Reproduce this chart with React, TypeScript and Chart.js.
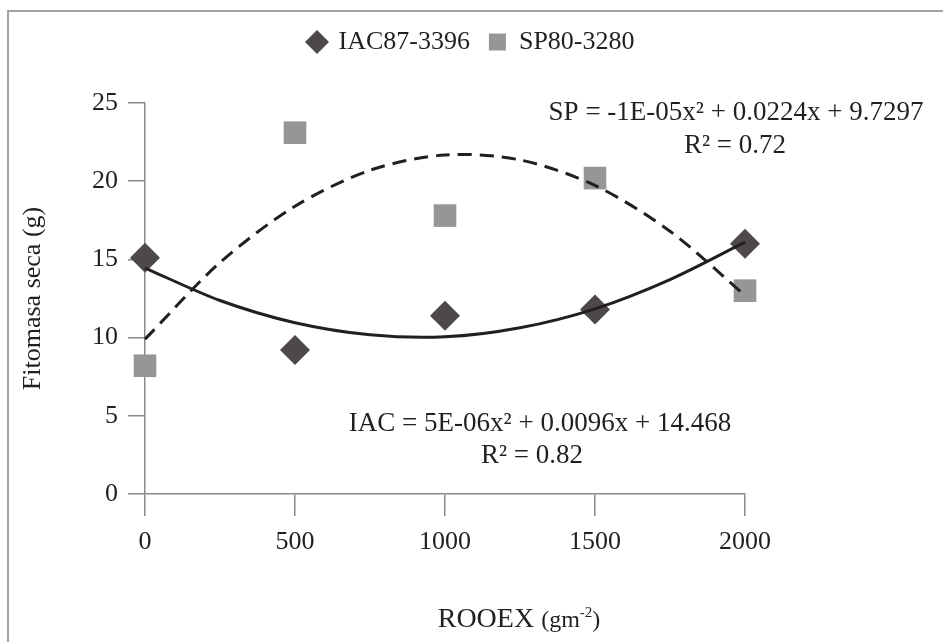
import React, { useEffect, useRef } from 'react';
import { Chart, registerables } from 'chart.js';

Chart.register(...registerables);

// ---- data ----
const doses = [0, 500, 1000, 1500, 2000];
const iacValues = [15.1, 9.2, 11.4, 11.8, 16.0];
const spValues = [8.2, 23.1, 17.8, 20.2, 13.0];
const trendX = [0, 250, 500, 750, 1000, 1250, 1500, 1750, 2000];
const iacTrend = [14.45, 12.37, 10.95, 10.18, 10.05, 10.63, 11.84, 13.71, 16.1];
const spTrend = [9.9, 14.8, 18.4, 20.7, 21.68, 21.36, 19.73, 16.8, 12.7];
const xTicks = [0, 500, 1000, 1500, 2000];
const yTicks = [0, 5, 10, 15, 20, 25];
const seriesNames = ['IAC87-3396', 'SP80-3280'];
const spEquation = 'SP = -1E-05x² + 0.0224x + 9.7297';
const spR2 = 'R² = 0.72';
const iacEquation = 'IAC = 5E-06x² + 0.0096x + 14.468';
const iacR2 = 'R² = 0.82';
const yTitle = 'Fitomasa seca (g)';

const FONT = "'Liberation Serif', 'Times New Roman', serif";
const TEXT = '#231f20';
const AXIS = '#8a8a8a';

const legendSpacer = {
  id: 'legendSpacer',
  beforeInit(chart: any) {
    const legend = chart.legend;
    if (!legend) return;
    const orig = legend.fit;
    legend.fit = function () {
      orig.call(this);
      this.height += 38;
    };
  },
};

const decor = {
  id: 'decor',
  beforeDraw(chart: any) {
    const ctx = chart.ctx;
    ctx.save();
    ctx.strokeStyle = '#a3a3a3';
    ctx.lineWidth = 2;
    ctx.beginPath();
    ctx.moveTo(8, 642);
    ctx.lineTo(8, 11);
    ctx.lineTo(943, 11);
    ctx.stroke();
    ctx.restore();
  },
  afterDraw(chart: any) {
    const ctx = chart.ctx;
    ctx.save();
    ctx.fillStyle = TEXT;
    ctx.textBaseline = 'alphabetic';
    ctx.textAlign = 'center';
    ctx.font = `27px ${FONT}`;
    ctx.fillText(spEquation, 736, 120);
    ctx.fillText(spR2, 735, 153);
    ctx.fillText(iacEquation, 540, 431);
    ctx.fillText(iacR2, 532, 463);

    // x-axis title with superscript
    const parts: [string, number, number][] = [
      ['ROOEX ', 28, 0],
      ['(gm', 24, 0],
      ['-2', 15, -10],
      [')', 24, 0],
    ];
    let total = 0;
    for (const [t, s] of parts) {
      ctx.font = `${s}px ${FONT}`;
      total += ctx.measureText(t).width;
    }
    let x = 519 - total / 2;
    ctx.textAlign = 'left';
    for (const [t, s, dy] of parts) {
      ctx.font = `${s}px ${FONT}`;
      ctx.fillText(t, x, 627 + dy);
      x += ctx.measureText(t).width;
    }
    ctx.restore();
  },
};

export default function App() {
  const ref = useRef<HTMLCanvasElement | null>(null);

  useEffect(() => {
    if (!ref.current) return;
    const chart = new Chart(ref.current, {
      type: 'scatter',
      data: {
        datasets: [
          {
            label: seriesNames[0],
            data: doses.map((d, i) => ({ x: d, y: iacValues[i] })),
            pointStyle: 'rectRot',
            pointRadius: 15,
            pointHoverRadius: 15,
            backgroundColor: '#4d494b',
            borderColor: '#4d494b',
            borderWidth: 0,
            clip: false,
            order: 1,
          },
          {
            label: seriesNames[1],
            data: doses.map((d, i) => ({ x: d, y: spValues[i] })),
            pointStyle: 'rect',
            pointRadius: 16,
            pointHoverRadius: 16,
            backgroundColor: '#969598',
            borderColor: '#969598',
            borderWidth: 0,
            clip: false,
            order: 1,
          },
          {
            label: 'trend-iac',
            type: 'line',
            data: trendX.map((d, i) => ({ x: d, y: iacTrend[i] })),
            showLine: true,
            pointRadius: 0,
            borderColor: TEXT,
            borderWidth: 3,
            tension: 0.3,
            fill: false,
            clip: false,
            order: 0,
          } as any,
          {
            label: 'trend-sp',
            type: 'line',
            data: trendX.map((d, i) => ({ x: d, y: spTrend[i] })),
            showLine: true,
            pointRadius: 0,
            borderColor: TEXT,
            borderWidth: 3,
            borderDash: [14, 8],
            tension: 0.3,
            fill: false,
            clip: false,
            order: 0,
          } as any,
        ],
      },
      options: {
        responsive: false,
        animation: false,
        layout: { padding: { top: 10, right: 0, bottom: 0, left: 0 } },
        plugins: {
          tooltip: { enabled: false },
          legend: {
            display: true,
            position: 'top',
            labels: {
              usePointStyle: true,
              boxHeight: 17,
              boxWidth: 17,
              padding: 19,
              color: TEXT,
              font: { family: FONT, size: 26 },
              filter: (item: any) => seriesNames.includes(item.text),
            },
          },
        },
        scales: {
          x: {
            type: 'linear',
            min: 0,
            max: 2000,
            afterBuildTicks: (s: any) => {
              s.ticks = xTicks.map((v) => ({ value: v }));
            },
            afterFit: (s: any) => {
              s.height = 148;
            },
            grid: { drawOnChartArea: false, drawTicks: true, tickLength: 22, color: AXIS, lineWidth: 1.5 },
            border: { display: true, color: AXIS, width: 1.5 },
            ticks: {
              color: TEXT,
              font: { family: FONT, size: 26 },
              padding: 11,
              maxRotation: 0,
              callback: (v: any) => String(v),
            },
          },
          y: {
            type: 'linear',
            min: 0,
            max: 25,
            afterBuildTicks: (s: any) => {
              s.ticks = yTicks.map((v) => ({ value: v }));
            },
            afterFit: (s: any) => {
              s.width = 145;
            },
            grid: { drawOnChartArea: false, drawTicks: true, tickLength: 17, color: AXIS, lineWidth: 1.5 },
            border: { display: true, color: AXIS, width: 1.5 },
            ticks: { color: TEXT, font: { family: FONT, size: 26 }, padding: 10, callback: (v: any) => String(v) },
            title: {
              display: true,
              text: yTitle,
              color: TEXT,
              font: { family: FONT, size: 26 },
              padding: { top: 18, bottom: 0 },
            },
          },
          yRight: {
            type: 'linear',
            position: 'right',
            min: 0,
            max: 25,
            display: true,
            afterFit: (s: any) => {
              s.width = 198;
            },
            grid: { display: false, drawTicks: false },
            border: { display: false },
            ticks: { display: false },
          },
        },
      } as any,
      plugins: [legendSpacer, decor],
    });
    return () => chart.destroy();
  }, []);

  return (
    <div style={{ position: 'absolute', left: 0, top: 0, width: 943, height: 642, background: '#fff' }}>
      <canvas ref={ref} width={943} height={642} />
    </div>
  );
}
